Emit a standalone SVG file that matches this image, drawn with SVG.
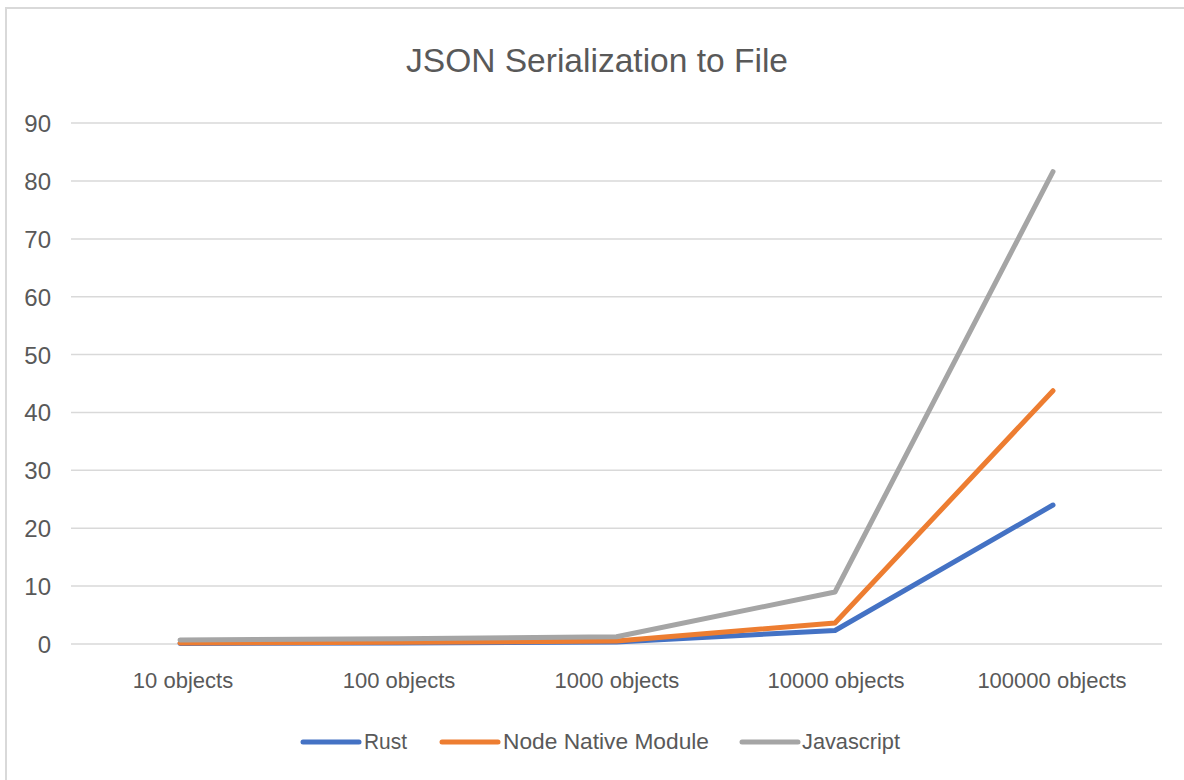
<svg xmlns="http://www.w3.org/2000/svg" width="1184" height="780" viewBox="0 0 1184 780">
<style>
.t{font-family:"Liberation Sans",Arial,sans-serif;fill:#595959}
.ax{font-size:24px;text-anchor:end}
.cat{font-size:22px;text-anchor:middle}
.lg{font-size:21.5px}
.grid line{stroke:#d9d9d9;stroke-width:1.5}
.s{fill:none;stroke-width:5;stroke-linejoin:round;stroke-linecap:round}
</style>
<rect width="1184" height="780" fill="#fff"/>
<rect x="6" y="8" width="1200" height="800" fill="none" stroke="#d9d9d9" stroke-width="2"/>
<text id="title" class="t" x="406" y="72" font-size="34" textLength="382" lengthAdjust="spacingAndGlyphs">JSON Serialization to File</text>
<g class="grid">
<line x1="71" y1="123" x2="1162" y2="123"/>
<line x1="71" y1="181" x2="1162" y2="181"/>
<line x1="71" y1="239" x2="1162" y2="239"/>
<line x1="71" y1="296.7" x2="1162" y2="296.7"/>
<line x1="71" y1="354.6" x2="1162" y2="354.6"/>
<line x1="71" y1="412.4" x2="1162" y2="412.4"/>
<line x1="71" y1="470.3" x2="1162" y2="470.3"/>
<line x1="71" y1="528.2" x2="1162" y2="528.2"/>
<line x1="71" y1="586.1" x2="1162" y2="586.1"/>
<line x1="71" y1="644" x2="1162" y2="644"/>
</g>
<g id="yaxis" class="t ax">
<text x="51" y="132">90</text>
<text x="51" y="190">80</text>
<text x="51" y="248">70</text>
<text x="51" y="305.7">60</text>
<text x="51" y="363.6">50</text>
<text x="51" y="421.4">40</text>
<text x="51" y="479.3">30</text>
<text x="51" y="537.2">20</text>
<text x="51" y="595.1">10</text>
<text x="51" y="653">0</text>
</g>
<g id="xaxis" class="t cat">
<text x="183" y="688">10 objects</text>
<text x="399" y="688">100 objects</text>
<text x="617" y="688">1000 objects</text>
<text x="836" y="688">10000 objects</text>
<text x="1052" y="688">100000 objects</text>
</g>
<g id="series">
<polyline id="rust" class="s" stroke="#4472C4" points="180,643.5 398.5,643 616.5,642 835,630.5 1053,505"/>
<polyline id="node" class="s" stroke="#ED7D31" points="180,643 398.5,642.3 616.5,641 835,623 1053,390.7"/>
<polyline id="js" class="s" stroke="#A5A5A5" points="180,640 398.5,638.8 616.5,636.8 835,592 1053,171.7"/>
</g>
<g id="legend">
<line x1="303" y1="742" x2="359" y2="742" stroke="#4472C4" stroke-width="5" stroke-linecap="round"/>
<text class="t lg" x="364" y="749" textLength="43" lengthAdjust="spacingAndGlyphs">Rust</text>
<line x1="442" y1="742" x2="498" y2="742" stroke="#ED7D31" stroke-width="5" stroke-linecap="round"/>
<text class="t lg" x="503" y="749" textLength="206" lengthAdjust="spacingAndGlyphs">Node Native Module</text>
<line x1="742" y1="742" x2="798" y2="742" stroke="#A5A5A5" stroke-width="5" stroke-linecap="round"/>
<text class="t lg" x="802" y="749" textLength="98" lengthAdjust="spacingAndGlyphs">Javascript</text>
</g>
</svg>
